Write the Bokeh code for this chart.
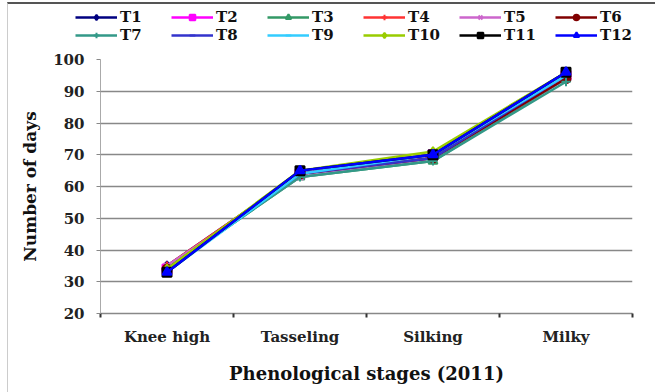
from bokeh.plotting import figure
from bokeh.layouts import column
from bokeh.models import FixedTicker, Legend, LegendItem, Range1d
from bokeh.embed import file_html
from bokeh.resources import INLINE

stages = ["Knee high", "Tasseling", "Silking", "Milky"]
y_ticks = [20, 30, 40, 50, 60, 70, 80, 90, 100]

T1 = [35, 64, 69, 94]
T2 = [34, 64, 70, 95]
T3 = [34, 63, 68, 94]
T4 = [35, 64, 69, 95]
T5 = [35, 63, 69, 94]
T6 = [34, 64, 69, 94]
T7 = [34, 63, 68, 93]
T8 = [34, 64, 69, 95]
T9 = [33, 64, 70, 95]
T10 = [34, 65, 71, 96]
T11 = [33, 65, 70, 96]
T12 = [33, 65, 70, 96]

series_names = ["T1", "T2", "T3", "T4", "T5", "T6", "T7", "T8", "T9", "T10", "T11", "T12"]
series_values = [T1, T2, T3, T4, T5, T6, T7, T8, T9, T10, T11, T12]
colors = ["#000080", "#FF00FF", "#339966", "#FF3333", "#CC66CC", "#800000",
          "#339988", "#3333CC", "#33CCFF", "#99CC00", "#000000", "#0000FF"]
markers = ["diamond", "square", "triangle", "cross", "x", "circle",
           "cross", "dash", "dash", "diamond", "square", "triangle"]

FONT = "DejaVu Serif"
W = 647

# ---------- main chart ----------
p = figure(width=W, height=346, output_backend="svg", toolbar_location=None,
           x_range=Range1d(0, 4), y_range=Range1d(20, 100),
           min_border_left=92, min_border_right=23, min_border_top=13, min_border_bottom=79)
p.frame_align = False

xs = [i + 0.5 for i in range(len(stages))]
for name, vals, c, m in zip(series_names, series_values, colors, markers):
    p.line(xs, vals, line_color=c, line_width=2.5)
    p.scatter(xs, vals, marker=m, size=9, fill_color=c, line_color=c, line_width=2)

p.xaxis.ticker = FixedTicker(ticks=xs, minor_ticks=[0, 1, 2, 3, 4])
p.xaxis.major_label_overrides = {x: s for x, s in zip(xs, stages)}
p.xaxis.major_tick_line_color = None
p.xaxis.minor_tick_in = 0
p.xaxis.minor_tick_out = 4
p.xaxis.minor_tick_line_color = "#333333"
p.xaxis.minor_tick_line_width = 2
p.xaxis.axis_line_color = "#888888"
p.xaxis.axis_line_width = 1.5
p.xaxis.major_label_standoff = 8
p.xaxis.axis_label = "Phenological stages (2011)"
p.xaxis.axis_label_standoff = 14

p.yaxis.ticker = FixedTicker(ticks=y_ticks)
p.yaxis.minor_tick_line_color = None
p.yaxis.major_tick_in = 0
p.yaxis.major_tick_out = 4
p.yaxis.major_tick_line_color = "#888888"
p.yaxis.axis_line_color = "#aaaaaa"
p.yaxis.major_label_standoff = 12
p.yaxis.axis_label = "Number of days"
p.yaxis.axis_label_standoff = 10

for ax in (p.xaxis, p.yaxis):
    ax.major_label_text_font = FONT
    ax.major_label_text_font_style = "bold"
    ax.major_label_text_font_size = "15px"
    ax.major_label_text_color = "#222222"
    ax.axis_label_text_font = FONT
    ax.axis_label_text_font_style = "bold"
    ax.axis_label_text_color = "#111111"
p.yaxis.axis_label_text_font_size = "17px"
p.xaxis.axis_label_text_font_size = "18px"

p.xgrid.grid_line_color = None
p.ygrid.grid_line_color = "#888888"
p.ygrid.grid_line_width = 1.5
p.outline_line_color = None

# ---------- legend strip ----------
lf = figure(width=W, height=42, output_backend="svg", toolbar_location=None,
            x_range=Range1d(0, 1), y_range=Range1d(0, 1),
            x_axis_type=None, y_axis_type=None,
            min_border_left=0, min_border_right=0, min_border_top=0, min_border_bottom=0)
lf.frame_align = False
lf.xgrid.visible = False
lf.ygrid.visible = False
lf.outline_line_color = None

items = []
for name, vals, c, m in zip(series_names, series_values, colors, markers):
    # series values lie outside this strip's y range, so only the legend glyphs show
    r1 = lf.line(xs, vals, line_color=c, line_width=2.5)
    r2 = lf.scatter(xs, vals, marker=m, size=9, fill_color=c, line_color=c, line_width=2)
    items.append(LegendItem(label=name, renderers=[r1, r2]))

legend = Legend(items=items, orientation="horizontal", nrows=2,
                location=(67, 2),
                label_text_font=FONT, label_text_font_style="bold", label_text_font_size="15px",
                label_text_color="#111111",
                glyph_width=42, glyph_height=14, spacing=0, label_standoff=3,
                label_width=51, label_height=14,
                padding=0, margin=0, border_line_color=None, background_fill_alpha=0)
lf.add_layout(legend)

layout = column(lf, p, spacing=0,
                styles={"border-top": "2px solid #555555", "border-left": "1px solid #cccccc",
                        "margin-left": "7px", "margin-top": "2px"})

open("out.html", "w").write(file_html(layout, INLINE))
